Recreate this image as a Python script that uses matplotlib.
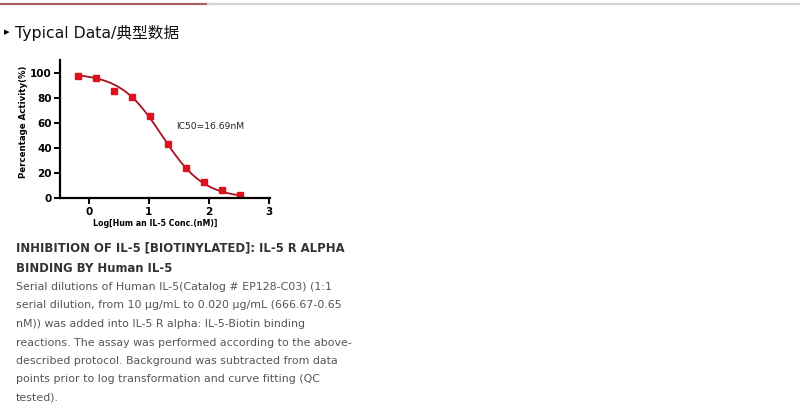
import numpy as np
import matplotlib
matplotlib.use('Agg')
import matplotlib.pyplot as plt
from matplotlib.lines import Line2D

plt.rcParams['font.family'] = ['DejaVu Sans', 'Noto Sans CJK SC']

# data
log_conc = [-0.18, 0.12, 0.42, 0.72, 1.02, 1.32, 1.62, 1.92, 2.22, 2.52]
activity = [98.1, 96.3, 85.6, 81.1, 65.6, 43.2, 24.3, 13.1, 6.9, 2.4]

# 4PL fit parameters
top = 100.0
bottom = 0.0
log_ic50 = np.log10(16.69)
hill = 1.25

x_ticks = [0, 1, 2, 3]
y_ticks = [0, 20, 40, 60, 80, 100]

title = 'Typical Data/典型数据'
heading = ['INHIBITION OF IL-5 [BIOTINYLATED]: IL-5 R ALPHA',
           'BINDING BY Human IL-5']
body = ['Serial dilutions of Human IL-5(Catalog # EP128-C03) (1:1',
        'serial dilution, from 10 μg/mL to 0.020 μg/mL (666.67-0.65',
        'nM)) was added into IL-5 R alpha: IL-5-Biotin binding',
        'reactions. The assay was performed according to the above-',
        'described protocol. Background was subtracted from data',
        'points prior to log transformation and curve fitting (QC',
        'tested).']

W, H = 800, 408
fig = plt.figure(figsize=(W / 100, H / 100), dpi=100)

# top rule: red part then grey
fig.add_artist(Line2D([0, 208 / W], [1 - 3.5 / H] * 2, color='#a8606a', lw=1.6))
fig.add_artist(Line2D([208 / W, 1], [1 - 3.5 / H] * 2, color='#d2d2d2', lw=1.6))

fig.text(4 / W, 1 - 32 / H, '▸', fontsize=8, color='black', va='center')
fig.text(15 / W, 1 - 33 / H, title, fontsize=11.3, color='#111111', va='center',
         family=['DejaVu Sans', 'Noto Sans CJK SC'])

ax = fig.add_axes([60 / W, 1 - 198.3 / H, 210 / W, 138.3 / H])
xs = np.linspace(min(log_conc), max(log_conc), 300)
curve = bottom + (top - bottom) / (1 + 10 ** ((xs - log_ic50) * hill))
ax.plot(xs, curve, color='#a8101e', lw=1.3)
ax.plot(log_conc, activity, 's', color='#e0101c', ms=4.8, mec='#e0101c')

ax.set_xlim(-0.48, 3.02)
ax.set_ylim(0, 110.6)
ax.set_xticks(x_ticks)
ax.set_yticks(y_ticks)
for s in ['top', 'right']:
    ax.spines[s].set_visible(False)
for s in ['left', 'bottom']:
    ax.spines[s].set_linewidth(1.6)
ax.tick_params(width=1.4, length=4, labelsize=7.5, pad=2)
for lab in ax.get_xticklabels() + ax.get_yticklabels():
    lab.set_fontweight('bold')
ax.set_xlabel('Log[Hum an IL-5 Conc.(nM)]', fontsize=5.7, fontweight='bold')
ax.xaxis.set_label_coords((155 - 60) / 210, -0.148)
ax.set_ylabel('Percentage Activity(%)', fontsize=6.2, fontweight='bold')
ax.yaxis.set_label_coords(-(60 - 28) / 210, 0.55)
ax.text(1.46, 57.8, 'IC50=16.69nM', fontsize=6.6, color='#222222', va='center')

y = 248
for line in heading:
    fig.text(16 / W, 1 - y / H, line, fontsize=8.4, fontweight='bold',
             color='#333333', va='center')
    y += 20
y = 287
for line in body:
    fig.text(16 / W, 1 - y / H, line, fontsize=7.9, color='#555555', va='center')
    y += 18.5

fig.savefig('out.png', dpi=100)
